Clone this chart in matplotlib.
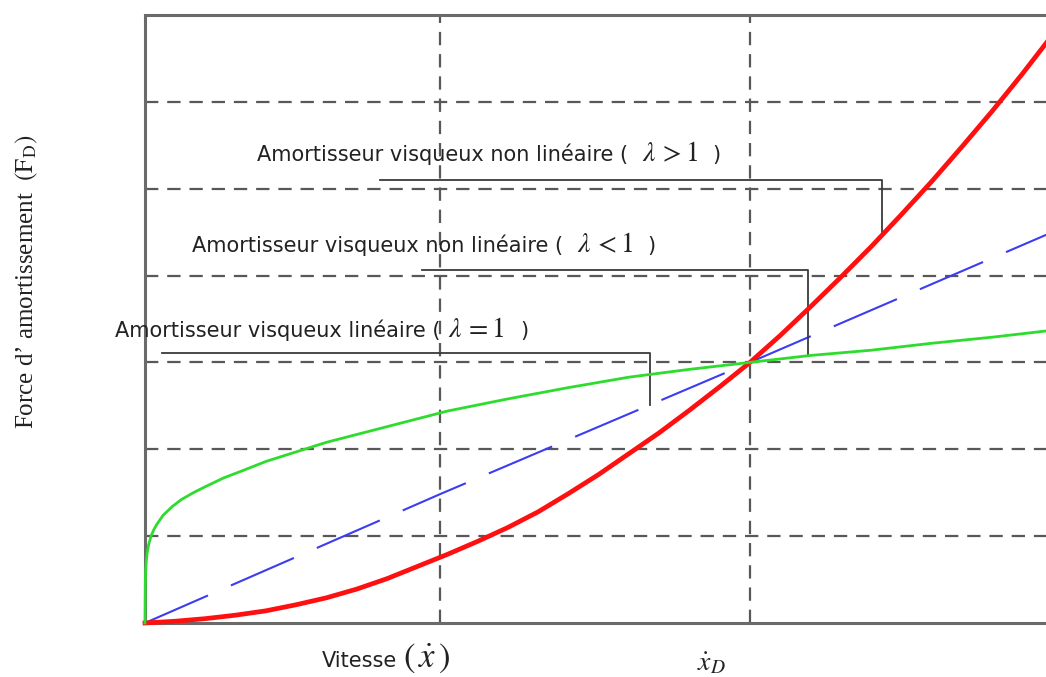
import numpy as np
import matplotlib
matplotlib.use("Agg")
import matplotlib.pyplot as plt

plt.rcParams['font.family'] = 'DejaVu Sans'
plt.rcParams['mathtext.fontset'] = 'stix'

# velocity in units of x_D, damping force scaled so that F(x_D) = 3
# lambda > 1 (red)
red_v = [0, 0.05, 0.10, 0.15, 0.20, 0.25, 0.30, 0.35, 0.40, 0.45, 0.50, 0.55, 0.60, 0.65, 0.70,
         0.75, 0.80, 0.85, 0.90, 0.95, 1.00, 1.05, 1.10, 1.15, 1.20, 1.25, 1.30, 1.35, 1.40, 1.45, 1.50]
red_f = [0, 0.02, 0.05, 0.09, 0.14, 0.21, 0.29, 0.39, 0.51, 0.65, 0.79, 0.94, 1.10, 1.28, 1.49,
         1.71, 1.95, 2.19, 2.45, 2.72, 3.00, 3.31, 3.64, 3.98, 4.33, 4.70, 5.08, 5.48, 5.89, 6.32, 6.77]

# lambda < 1 (green)
green_v = [0, 0.0005, 0.001, 0.002, 0.0035, 0.006, 0.01, 0.015, 0.02, 0.03, 0.045, 0.06, 0.08, 0.10,
           0.13, 0.16, 0.20, 0.25, 0.30, 0.35, 0.40, 0.45, 0.50, 0.60, 0.70, 0.80, 0.90, 1.00,
           1.10, 1.20, 1.30, 1.40, 1.50]
green_f = [0, 0.45, 0.58, 0.70, 0.80, 0.90, 1.00, 1.08, 1.14, 1.24, 1.34, 1.42, 1.50, 1.57,
           1.67, 1.75, 1.86, 1.97, 2.08, 2.17, 2.26, 2.35, 2.44, 2.58, 2.71, 2.83, 2.92, 3.00,
           3.08, 3.14, 3.22, 3.29, 3.37]

# lambda = 1 (blue, linear)
lin_v = [0, 0.49, 1.00, 1.49, 1.50]
lin_f = [0, 1.49, 3.00, 4.47, 4.50]

grid_v = [0.488, 1.0]
grid_f = [1, 2, 3, 4, 5, 6]

fig = plt.figure(figsize=(10.46, 6.77), dpi=100)
ax = fig.add_axes([0.1386, 0.0798, 0.8676, 0.8981])
ax.set_xlim(0, 1.5)
ax.set_ylim(0, 7)
ax.set_xticks(grid_v)
ax.set_yticks(grid_f)
ax.tick_params(length=0, labelbottom=False, labelleft=False)
ax.grid(True, color='#585858', lw=1.6, ls=(0, (6, 4)))
for s in ax.spines.values():
    s.set_color('#6a6a6a')
    s.set_linewidth(2.2)

ax.plot(lin_v, lin_f, color='#3c3cf0', lw=1.5, dashes=(33, 12), clip_on=False, zorder=3)
ax.plot(red_v, red_f, color='#ff1010', lw=3.4, clip_on=False, zorder=4)
ax.plot(green_v, green_f, color='#2edc2e', lw=2.0, clip_on=False, zorder=5)

# leader lines: horizontal bar then drop onto the curve
leaders = [
    (0.388, 1.218, 5.10, red_v, red_f),
    (0.458, 1.096, 4.06, green_v, green_f),
    (0.028, 0.835, 3.11, lin_v, lin_f),
]
for x0, xc, yt, cv, cf in leaders:
    yb = np.interp(xc, cv, cf)
    ax.plot([x0, xc, xc], [yt, yt, yb], color='#3a3a3a', lw=1.3, zorder=3.5)

# labels: sans text, math part, closing paren
labels = [
    (0.185, 0.821, 0.937, 5.32, 'Amortisseur visqueux non linéaire (', r'$\lambda\,>1$'),
    (0.078, 0.714, 0.830, 4.27, 'Amortisseur visqueux non linéaire (', r'$\lambda\,<1$'),
    (-0.050, 0.501, 0.621, 3.29, 'Amortisseur visqueux linéaire (', r'$\lambda\,=1$'),
]
for xs, xm, xp, yb, txt, math in labels:
    ax.text(xs, yb, txt, fontsize=15, va='baseline', ha='left', color='#222222', clip_on=False)
    ax.text(xm, yb, math, fontsize=20, va='baseline', ha='left', color='#222222', clip_on=False)
    ax.text(xp, yb, ')', fontsize=15, va='baseline', ha='left', color='#222222', clip_on=False)

# axis titles
fig.text(0.0258, 0.583, r'Force d’ amortissement  $(\mathrm{F_D})$', rotation=90,
         fontsize=18, family='Liberation Serif', ha='center', va='center', color='#222222')
fig.text(322 / 1046, 1 - 667 / 677, 'Vitesse', fontsize=15, ha='left', va='baseline', color='#222222')
fig.text(403 / 1046, 1 - 658 / 677, r'$\left(\,\dot{x}\,\right)$', fontsize=25, ha='left', va='center',
         color='#222222')
fig.text(712 / 1046, 1 - 662 / 677, r'$\dot{x}_D$', fontsize=20, ha='center', va='center', color='#222222')

fig.savefig('out.png', dpi=100)
